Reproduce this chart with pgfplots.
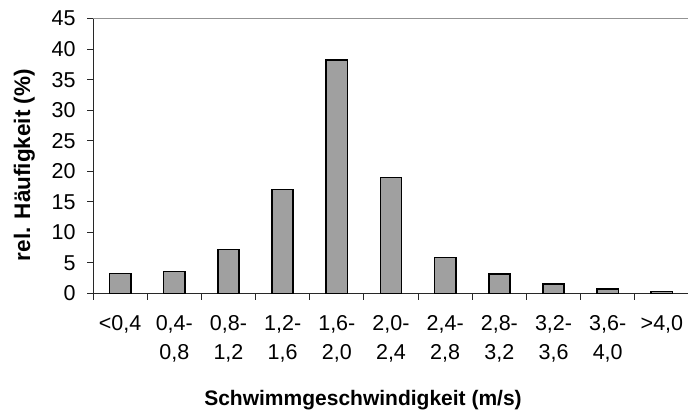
\documentclass[border=0pt]{standalone}
\usepackage{pgfplots}
\pgfplotsset{compat=1.18}
\usepackage{fontspec}
\setmainfont{Liberation Sans}
\definecolor{barfill}{RGB}{160,160,160}
\definecolor{axisgray}{RGB}{40,40,40}
\begin{document}
\begin{tikzpicture}[x=1bp,y=1bp]
\begin{axis}[
  at={(93bp,118.5bp)}, anchor=south west,
  scale only axis, width=596bp, height=275bp,
  xmin=0, xmax=11, ymin=0, ymax=45,
  axis x line*=bottom, axis y line*=left,
  axis line style={axisgray, line width=1bp},
  ytick={0,5,...,45},
  extra y ticks={45}, extra y tick labels={},
  extra y tick style={grid=major, major grid style={gray!85, line width=1.3bp}},
  xtick={0.5,1.5,...,10.5},
  xticklabels={{<0,4},{0,4-\\0,8},{0,8-\\1,2},{1,2-\\1,6},{1,6-\\2,0},{2,0-\\2,4},{2,4-\\2,8},{2,8-\\3,2},{3,2-\\3,6},{3,6-\\4,0},{>4,0}},
  major x tick style={draw=none},
  minor xtick={0,...,10},
  tick align=outside,
  major tick length=6bp, minor tick length=6bp,
  tick style={axisgray, line width=1bp},
  /pgf/number format/assume math mode=true,
  ticklabel style={font=\fontsize{21.5bp}{29.5bp}\selectfont},
  xticklabel style={align=center, anchor=north, yshift=-12bp},
  yticklabel style={xshift=-8bp},
  every axis y label/.style={at={(axis description cs:-0.1150,0.467)}, rotate=90, anchor=center, font=\fontsize{22.5bp}{26bp}\selectfont\bfseries},
  every axis x label/.style={at={(axis description cs:0.453,-0.409)}, anchor=base, font=\fontsize{21bp}{26bp}\selectfont\bfseries},
  ylabel={rel. Häufigkeit (\%)},
  xlabel={Schwimmgeschwindigkeit (m/s)},
  clip=false,
]
\addplot[ybar, bar width=0.393, fill=barfill, draw=black, line width=1.6bp]
  coordinates {(0.5,3.3) (1.5,3.6) (2.5,7.2) (3.5,17.0) (4.5,38.2) (5.5,19.0) (6.5,5.9) (7.5,3.2) (8.5,1.6) (9.5,0.7) (10.5,0.35)};
\end{axis}
\pgfresetboundingbox
\useasboundingbox (0,0) rectangle (688bp,412bp);
\end{tikzpicture}
\end{document}
